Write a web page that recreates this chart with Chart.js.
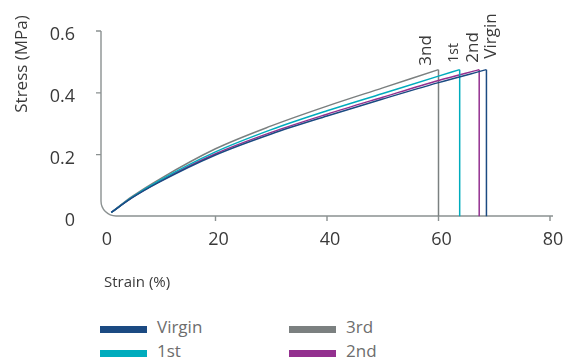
<!DOCTYPE html>
<html>
<head>
<meta charset="utf-8">
<script src="https://cdn.jsdelivr.net/npm/chart.js@4.4.1/dist/chart.umd.min.js"></script>
<style>
  html, body { margin: 0; padding: 0; background: #fff; }
  #wrap { position: relative; width: 567px; height: 360px; overflow: hidden; }
  #chart { position: absolute; left: 0; top: 0; }
  .leg { position: absolute; height: 20px; font-family: 'Open Sans', sans-serif; font-size: 17px; line-height: 20px; color: #6d6d6d; }
  .leg i { position: absolute; left: 0; top: 9px; width: 47px; height: 7px; }
  .leg span { position: absolute; left: 57px; top: 0; white-space: nowrap; }
</style>
</head>
<body>
<div id="wrap">
  <canvas id="chart" width="567" height="300"></canvas>
  <div id="legend"></div>
</div>
<script>
// stress-strain curves, one per loading cycle
const seriesNames = ['Virgin', '1st', '2nd', '3rd'];
const endLabels = ['Virgin', '1st', '2nd', '3nd'];
const seriesColors = ['#1b4a82', '#00acbd', '#93308f', '#7b8080'];

const strainGrid = [1.3, 5, 10, 20, 30, 40, 50, 60];
const stressVirgin = [0.013, 0.060, 0.112, 0.199, 0.267, 0.325, 0.380, 0.433];
const stress1st = [0.013, 0.062, 0.117, 0.209, 0.281, 0.342, 0.398, 0.454];
const stress2nd = [0.013, 0.061, 0.114, 0.203, 0.272, 0.331, 0.386, 0.440];
const stress3rd = [0.013, 0.064, 0.121, 0.219, 0.293, 0.357, 0.416, null];

// point where each sample breaks
const breakStrain = [68.6, 63.8, 67.3, 60.0];
const breakStress = [0.475, 0.475, 0.475, 0.475];

const xTicks = [0, 20, 40, 60, 80];
const yTicks = [0, 0.2, 0.4, 0.6];

const stressSets = [stressVirgin, stress1st, stress2nd, stress3rd];

const datasets = [];
seriesNames.forEach((name, i) => {
  const pts = [];
  strainGrid.forEach((s, j) => {
    const v = stressSets[i][j];
    if (v != null && s < breakStrain[i]) pts.push({ x: s, y: v });
  });
  pts.push({ x: breakStrain[i], y: breakStress[i] });
  datasets.push({
    label: name,
    data: pts,
    borderColor: seriesColors[i],
    borderWidth: 1.5,
    pointRadius: 0,
    fill: false,
    cubicInterpolationMode: 'monotone'
  });
  // vertical drop at break
  datasets.push({
    label: name + ' break',
    data: [{ x: breakStrain[i], y: breakStress[i] }, { x: breakStrain[i], y: 0 }],
    borderColor: seriesColors[i],
    borderWidth: 1.5,
    pointRadius: 0,
    tension: 0
  });
});

const labelStyle = {
  Virgin: { dx: 5, gap: 11, size: 17 },
  '1st': { dx: -6, gap: 7, size: 14 },
  '2nd': { dx: -6.5, gap: 7, size: 17 },
  '3nd': { dx: -12, gap: 4, size: 17 }
};

const decor = {
  id: 'decor',
  beforeDatasetsDraw(chart) {
    const { ctx, scales: { x, y } } = chart;
    const ax = x.left - 3;
    const top = y.getPixelForValue(0.6);
    const base = y.getPixelForValue(0) - 0.5;
    const right = x.getPixelForValue(80) + 3;
    const r = 15;
    ctx.save();
    ctx.strokeStyle = '#8b9191';
    ctx.lineWidth = 1.4;
    ctx.beginPath();
    ctx.moveTo(ax, top);
    ctx.lineTo(ax, base - r);
    ctx.arcTo(ax, base, ax + r, base, r);
    ctx.lineTo(right, base);
    yTicks.filter(v => v > 0).forEach(v => {
      const p = y.getPixelForValue(v);
      ctx.moveTo(ax - 5, p);
      ctx.lineTo(ax, p);
    });
    xTicks.filter(v => v > 0).forEach(v => {
      const p = x.getPixelForValue(v);
      ctx.moveTo(p, base);
      ctx.lineTo(p, base + 5);
    });
    ctx.stroke();
    ctx.restore();
  },
  afterDatasetsDraw(chart) {
    const { ctx, scales: { x, y } } = chart;
    ctx.save();
    ctx.fillStyle = '#3a3a3a';
    ctx.textBaseline = 'middle';
    // labels above the break lines
    endLabels.forEach((txt, i) => {
      const st = labelStyle[txt];
      const px = x.getPixelForValue(breakStrain[i]) + st.dx;
      const py = y.getPixelForValue(breakStress[i]) - st.gap;
      ctx.save();
      ctx.translate(px, py);
      ctx.rotate(-Math.PI / 2);
      ctx.font = st.size + "px 'Open Sans'";
      ctx.textAlign = 'left';
      ctx.fillText(txt, 0, 0);
      ctx.restore();
    });
    // y axis title
    ctx.save();
    ctx.translate(22.5, 64);
    ctx.rotate(-Math.PI / 2);
    ctx.font = "17px 'Open Sans'";
    ctx.textAlign = 'center';
    ctx.fillText('Stress (MPa)', 0, 0);
    ctx.restore();
    ctx.restore();
  }
};

new Chart(document.getElementById('chart'), {
  type: 'line',
  data: { datasets },
  options: {
    responsive: false,
    animation: false,
    layout: { padding: { left: 0, top: 31, right: 17, bottom: 0 } },
    plugins: { legend: { display: false }, tooltip: { enabled: false } },
    scales: {
      x: {
        type: 'linear',
        min: 0,
        max: 80,
        afterBuildTicks: s => { s.ticks = xTicks.map(v => ({ value: v })); },
        afterFit: s => { s.height = 83.5; s.paddingLeft = 0; s.paddingRight = 0; },
        grid: { display: false, drawTicks: false },
        border: { display: false },
        ticks: {
          autoSkip: false,
          maxRotation: 0,
          padding: 13,
          labelOffset: 3,
          color: '#3a3a3a',
          font: { family: "'Open Sans'", size: 18 }
        },
        title: {
          display: true,
          text: 'Strain (%)',
          align: 'start',
          color: '#3a3a3a',
          font: { family: "'Open Sans'", size: 15 },
          padding: { top: 0, bottom: 8 }
        }
      },
      y: {
        type: 'linear',
        min: 0,
        max: 0.6,
        afterBuildTicks: s => { s.ticks = yTicks.map(v => ({ value: v })); },
        afterFit: s => { s.width = 104; s.paddingTop = 0; s.paddingBottom = 0; },
        grid: { display: false, drawTicks: false },
        border: { display: false },
        ticks: {
          padding: 29,
          labelOffset: 4,
          color: '#3a3a3a',
          font: { family: "'Open Sans'", size: 18 },
          callback: v => String(v)
        }
      }
    }
  },
  plugins: [decor]
});

// legend, two columns
const legendPos = [[100, 317], [100, 341], [289, 341], [289, 317]];
const legendEl = document.getElementById('legend');
seriesNames.forEach((name, i) => {
  const d = document.createElement('div');
  d.className = 'leg';
  d.style.left = legendPos[i][0] + 'px';
  d.style.top = legendPos[i][1] + 'px';
  d.innerHTML = '<i style="background:' + seriesColors[i] + '"></i><span>' + name + '</span>';
  legendEl.appendChild(d);
});
</script>
</body>
</html>
